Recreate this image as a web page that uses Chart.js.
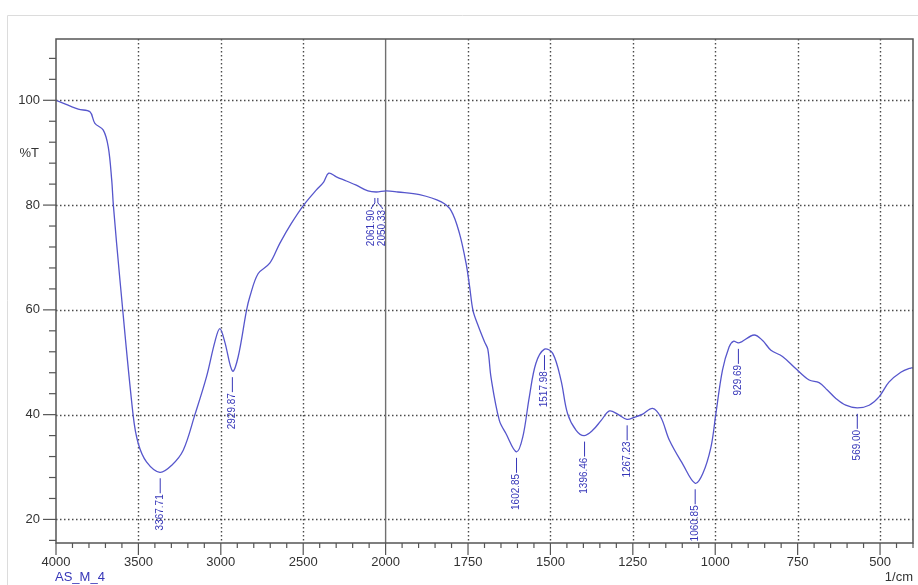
<!DOCTYPE html>
<html>
<head>
<meta charset="utf-8">
<script src="https://cdn.jsdelivr.net/npm/chart.js@4.4.0/dist/chart.umd.min.js"></script>
<style>
  html, body { margin: 0; padding: 0; background: #fff; }
  #wrap { width: 918px; height: 585px; position: relative; }
</style>
</head>
<body>
<div id="wrap"><canvas id="ftir"></canvas></div>
<script>
// spectrum (1/cm, %T)
const wavenumbers = [
  4000, 3865, 3794, 3764, 3713, 3683, 3662, 3652, 3612, 3532,
  3501, 3451, 3370, 3299, 3228, 3158, 3087, 3036, 3006, 2976,
  2929, 2895, 2844, 2824, 2774, 2703, 2642, 2572, 2497, 2420,
  2376, 2345, 2299, 2238, 2178, 2107, 2057, 1998, 1963, 1897,
  1831, 1801, 1776, 1756, 1745, 1735, 1720, 1700, 1690, 1680,
  1655, 1635, 1603, 1584, 1564, 1544, 1518, 1493, 1468, 1448,
  1422, 1398, 1372, 1346, 1321, 1296, 1268, 1245, 1220, 1190,
  1165, 1139, 1099, 1061, 1038, 1013, 998, 978, 958, 945,
  930, 920, 882, 857, 831, 796, 756, 715, 685, 660,
  634, 604, 569, 533, 503, 473, 437, 407, 400
];
const transmittance = [
  100.0, 98.3, 97.8, 95.6, 94.3, 91.1, 84.8, 80.0, 65.7, 39.9,
  34.5, 31.0, 29.0, 30.3, 33.2, 39.9, 47.2, 53.9, 56.4, 53.9,
  48.3, 51.0, 59.9, 62.5, 66.9, 68.9, 72.7, 76.5, 80.0, 82.9,
  84.4, 86.1, 85.4, 84.6, 83.8, 82.7, 82.5, 82.7, 82.5, 82.0,
  80.6, 78.9, 74.6, 68.9, 64.4, 59.9, 57.1, 53.9, 52.5, 47.0,
  38.9, 36.4, 32.9, 35.7, 43.4, 49.8, 52.5, 51.7, 46.6, 40.2,
  37.0, 36.0, 37.0, 38.9, 40.7, 40.1, 39.1, 39.5, 40.1, 41.2,
  39.5, 35.1, 30.6, 26.9, 28.7, 33.8, 40.2, 48.5, 52.9, 54.0,
  53.7, 53.9, 55.2, 54.2, 52.3, 51.1, 48.8, 46.6, 46.1, 44.7,
  43.1, 41.8, 41.3, 41.8, 43.4, 46.2, 48.1, 48.9, 48.9
];

const xTickLabels = [4000, 3500, 3000, 2500, 2000, 1750, 1500, 1250, 1000, 750, 500];
const yTickLabels = [20, 40, 60, 80, 100];

const peakWn = [3367.71, 2929.87, 2061.90, 2050.33, 1602.85, 1517.98, 1396.46, 1267.23, 1060.85, 929.69, 569.00];
const peakT  = [29.0, 48.3, 82.5, 82.5, 32.9, 52.5, 36.0, 39.1, 26.9, 53.7, 41.3];

// the x axis is compressed by 2 above 2000 1/cm
function pos(w) { return w >= 2000 ? (4000 - w) / 2 : 1000 + (2000 - w); }
function wn(p) { return p <= 1000 ? 4000 - 2 * p : 2000 - (p - 1000); }

const FONT = '"Liberation Sans", Arial, sans-serif';
const BLUE = '#3636b8';

const decor = {
  id: 'decor',
  beforeDatasetsDraw(chart) {
    const { ctx, chartArea: a, scales: { x, y } } = chart;
    ctx.save();
    ctx.strokeStyle = '#4a4a4a';
    ctx.lineWidth = 1.4;
    ctx.setLineDash([1.5, 2.5]);
    xTickLabels.forEach(w => {
      if (w === 4000 || w === 2000) return;
      const px = Math.round(x.getPixelForValue(pos(w))) + 0.5;
      ctx.beginPath(); ctx.moveTo(px, a.top); ctx.lineTo(px, a.bottom); ctx.stroke();
    });
    yTickLabels.forEach(v => {
      const py = Math.round(y.getPixelForValue(v)) + 0.5;
      ctx.beginPath(); ctx.moveTo(a.left, py); ctx.lineTo(a.right, py); ctx.stroke();
    });
    ctx.setLineDash([]);
    // solid split line at 2000
    ctx.strokeStyle = '#707070';
    ctx.lineWidth = 1.4;
    const p2 = x.getPixelForValue(pos(2000));
    ctx.beginPath(); ctx.moveTo(p2, a.top); ctx.lineTo(p2, a.bottom); ctx.stroke();
    ctx.restore();
  },
  afterDatasetsDraw(chart) {
    const { ctx, chartArea: a, scales: { x, y } } = chart;
    ctx.save();
    // outer box
    ctx.strokeStyle = '#dcdcdc';
    ctx.lineWidth = 1;
    ctx.beginPath(); ctx.moveTo(7.5, 585); ctx.lineTo(7.5, 15.5); ctx.lineTo(918, 15.5); ctx.stroke();

    // plot frame
    ctx.strokeStyle = '#555';
    ctx.lineWidth = 1.5;
    ctx.strokeRect(a.left, a.top, a.right - a.left, a.bottom - a.top);

    // x ticks, minor every 50 units of position
    ctx.lineWidth = 1.2;
    const majorX = xTickLabels.map(pos);
    for (let p = 0; p <= 2600; p += 50) {
      const px = x.getPixelForValue(p);
      const len = majorX.includes(p) ? 12 : 5;
      ctx.beginPath(); ctx.moveTo(px, a.bottom); ctx.lineTo(px, a.bottom + len); ctx.stroke();
    }
    // y ticks, minor every 4
    for (let v = 16; v <= 108; v += 4) {
      const py = y.getPixelForValue(v);
      const len = yTickLabels.includes(v) ? 13 : 7;
      ctx.beginPath(); ctx.moveTo(a.left, py); ctx.lineTo(a.left - len, py); ctx.stroke();
    }

    // axis texts
    ctx.font = '13px ' + FONT;
    ctx.fillStyle = '#333';
    ctx.textBaseline = 'middle';
    ctx.textAlign = 'right';
    ctx.fillText('%T', 39, 153);
    ctx.fillText('1/cm', 913, 577);
    ctx.textAlign = 'left';
    ctx.fillStyle = BLUE;
    ctx.fillText('AS_M_4', 55, 577);

    // peak labels
    const xs = peakWn.map(w => x.getPixelForValue(pos(w)));
    const lx = xs.slice();
    const fork = xs.map(() => false);
    for (let i = 1; i < xs.length; i++) {
      if (Math.abs(xs[i] - xs[i - 1]) < 10) {
        const c = (xs[i] + xs[i - 1]) / 2;
        lx[i - 1] = c - 5; lx[i] = c + 6;
        xs[i - 1] = c - 1.5; xs[i] = c + 1.5;
        fork[i - 1] = fork[i] = true;
      }
    }
    ctx.strokeStyle = BLUE;
    ctx.fillStyle = BLUE;
    ctx.lineWidth = 1;
    ctx.font = '10px ' + FONT;
    peakWn.forEach((w, i) => {
      const y0 = y.getPixelForValue(peakT[i]) + 6;
      let ty;
      ctx.beginPath();
      if (fork[i]) {
        ctx.moveTo(xs[i], y0); ctx.lineTo(xs[i], y0 + 5);
        ctx.lineTo(lx[i], y0 + 10); ctx.lineTo(lx[i], y0 + 11);
        ty = y0 + 12;
      } else {
        ctx.moveTo(xs[i], y0); ctx.lineTo(xs[i], y0 + 15);
        ty = y0 + 16;
      }
      ctx.stroke();
      ctx.save();
      ctx.translate(lx[i], ty);
      ctx.rotate(-Math.PI / 2);
      ctx.textAlign = 'right';
      ctx.textBaseline = 'middle';
      ctx.fillText(w.toFixed(2), 0, 0);
      ctx.restore();
    });
    ctx.restore();
  }
};

new Chart(document.getElementById('ftir'), {
  type: 'line',
  data: {
    datasets: [{
      data: wavenumbers.map((w, i) => ({ x: pos(w), y: transmittance[i] })),
      borderColor: '#5656cc',
      borderWidth: 1.3,
      pointRadius: 0,
      fill: false,
      tension: 0.35
    }]
  },
  options: {
    responsive: true,
    maintainAspectRatio: false,
    animation: false,
    devicePixelRatio: 1,
    layout: { padding: { left: 0, top: 39, right: 5, bottom: 0 } },
    plugins: { legend: { display: false }, tooltip: { enabled: false } },
    scales: {
      x: {
        type: 'linear',
        min: 0,
        max: 2600,
        grid: { display: false, drawTicks: false },
        border: { display: false },
        afterBuildTicks: s => { s.ticks = xTickLabels.map(w => ({ value: pos(w) })); },
        afterFit: s => { s.height = 42; s.paddingLeft = 0; s.paddingRight = 0; },
        ticks: {
          autoSkip: false,
          maxRotation: 0,
          padding: 12,
          color: '#333',
          font: { family: FONT, size: 13 },
          callback: v => String(Math.round(wn(v)))
        }
      },
      y: {
        min: 15.5,
        max: 111.7,
        grid: { display: false, drawTicks: false },
        border: { display: false },
        afterBuildTicks: s => { s.ticks = yTickLabels.map(v => ({ value: v })); },
        afterFit: s => { s.width = 56; s.paddingTop = 0; s.paddingBottom = 0; },
        ticks: {
          padding: 16,
          color: '#333',
          font: { family: FONT, size: 13 }
        }
      }
    }
  },
  plugins: [decor]
});
</script>
</body>
</html>
